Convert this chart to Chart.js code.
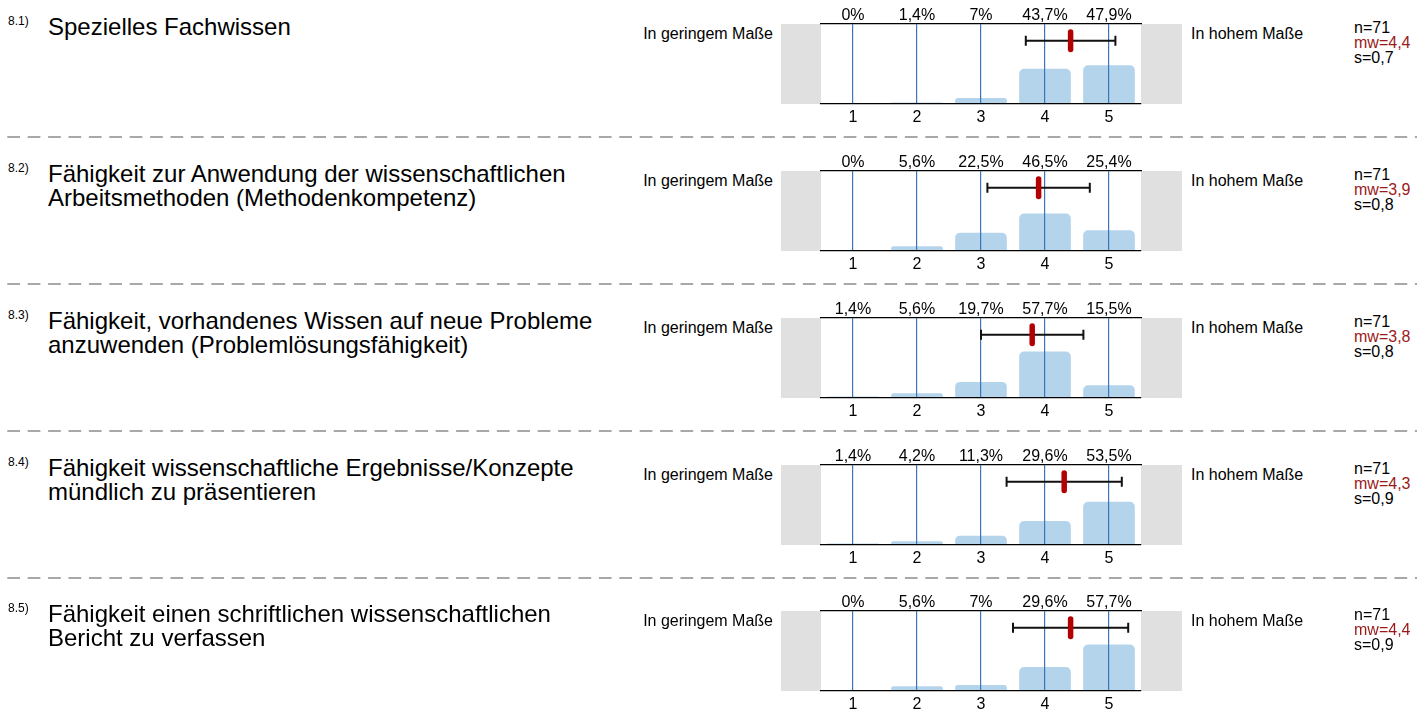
<!DOCTYPE html>
<html>
<head>
<meta charset="utf-8">
<script src="https://cdn.jsdelivr.net/npm/chart.js@4/dist/chart.umd.min.js"></script>
<style>
  html, body { margin: 0; padding: 0; background: #fff; }
  body { width: 1417px; height: 709px; position: relative; overflow: hidden;
         font-family: "Liberation Sans", Arial, sans-serif; color: #000; }
  .row { position: absolute; left: 0; width: 1417px; height: 147px; }
  .row canvas { position: absolute; left: 0; top: 0; }
  .num { position: absolute; left: 8px; top: 14.5px; font-size: 12px; line-height: 12px; white-space: nowrap; }
  .title { position: absolute; left: 48px; top: 15px; font-size: 24px; line-height: 23.5px; white-space: nowrap; }
  .lab-l { position: absolute; right: calc(1417px - 773px); top: 26px; font-size: 16px; line-height: 16px; white-space: nowrap; }
  .lab-r { position: absolute; left: 1191px; top: 26px; font-size: 16px; line-height: 16px; white-space: nowrap; }
  .stats { position: absolute; left: 1354px; top: 20px; font-size: 16px; line-height: 15px; white-space: nowrap; }
  .stats .mw { color: #9a1a1a; }
  svg.sep { position: absolute; left: 0; top: 0; }
</style>
</head>
<body>
<script>
// ---------- data ----------
const itemIds = ['8.1)', '8.2)', '8.3)', '8.4)', '8.5)'];
const itemTitles = [
  ['Spezielles Fachwissen'],
  ['Fähigkeit zur Anwendung der wissenschaftlichen', 'Arbeitsmethoden (Methodenkompetenz)'],
  ['Fähigkeit, vorhandenes Wissen auf neue Probleme', 'anzuwenden (Problemlösungsfähigkeit)'],
  ['Fähigkeit wissenschaftliche Ergebnisse/Konzepte', 'mündlich zu präsentieren'],
  ['Fähigkeit einen schriftlichen wissenschaftlichen', 'Bericht zu verfassen']
];
const categories = [1, 2, 3, 4, 5];
const tickLabels = ['1', '2', '3', '4', '5'];
const pct81 = [0, 1.4, 7, 43.7, 47.9];
const pct82 = [0, 5.6, 22.5, 46.5, 25.4];
const pct83 = [1.4, 5.6, 19.7, 57.7, 15.5];
const pct84 = [1.4, 4.2, 11.3, 29.6, 53.5];
const pct85 = [0, 5.6, 7, 29.6, 57.7];
const nValues = [71, 71, 71, 71, 71];
const means = [4.4, 3.9, 3.8, 4.3, 4.4];
const sds = [0.7, 0.8, 0.8, 0.9, 0.9];
const leftPole = 'In geringem Maße';
const rightPole = 'In hohem Maße';

const allPct = [pct81, pct82, pct83, pct84, pct85];

// ---------- layout / style ----------
const W = 1417, H = 147;
const rowTops = [0, 147, 294, 441, 587];
const sepYs = [137, 284, 431, 578];
const ERR_Y = 79;         // y-value level of error bar inside the 0..100 scale
const FONT = '"Liberation Sans", Arial, sans-serif';
const fmt = v => String(v).replace('.', ',');

// separators
const svgNS = 'http://www.w3.org/2000/svg';
const svg = document.createElementNS(svgNS, 'svg');
svg.setAttribute('class', 'sep');
svg.setAttribute('width', W); svg.setAttribute('height', 709);
sepYs.forEach(y => {
  const l = document.createElementNS(svgNS, 'line');
  l.setAttribute('x1', 7.3); l.setAttribute('x2', W);
  l.setAttribute('y1', y); l.setAttribute('y2', y);
  l.setAttribute('stroke', '#a8a8a8'); l.setAttribute('stroke-width', 2);
  l.setAttribute('stroke-dasharray', '12.7 7.7');
  svg.appendChild(l);
});
document.body.appendChild(svg);

const poleBoxes = {
  id: 'poleBoxes',
  beforeDraw(chart) {
    const a = chart.chartArea, c = chart.ctx;
    c.save();
    c.fillStyle = '#e0e0e0';
    c.fillRect(a.left - 40, a.top, 40, a.bottom - a.top);
    c.fillRect(a.right, a.top, 41, a.bottom - a.top);
    c.restore();
  }
};

const errorBar = {
  id: 'errorBar',
  afterDraw(chart, args, opts) {
    const xs = chart.scales.x, ys = chart.scales.y, c = chart.ctx;
    const m = opts.mean, s = opts.sd;
    const y = ys.getPixelForValue(ERR_Y);
    const x0 = xs.getPixelForValue(m - s), x1 = xs.getPixelForValue(m + s);
    const xm = xs.getPixelForValue(m);
    c.save();
    c.strokeStyle = '#111';
    c.lineWidth = 2;
    c.beginPath();
    c.moveTo(x0, y); c.lineTo(x1, y);
    c.moveTo(x0, y - 5); c.lineTo(x0, y + 5);
    c.moveTo(x1, y - 5); c.lineTo(x1, y + 5);
    c.stroke();
    c.strokeStyle = '#b30000';
    c.lineWidth = 5.5;
    c.lineCap = 'round';
    c.beginPath();
    c.moveTo(xm, y - 8.7); c.lineTo(xm, y + 8.7);
    c.stroke();
    c.restore();
  }
};

allPct.forEach((pct, r) => {
  const row = document.createElement('div');
  row.className = 'row';
  row.style.top = rowTops[r] + 'px';
  document.body.appendChild(row);

  const num = document.createElement('div');
  num.className = 'num'; num.textContent = itemIds[r];
  row.appendChild(num);

  const t = document.createElement('div');
  t.className = 'title';
  itemTitles[r].forEach((line, i) => {
    if (i) t.appendChild(document.createElement('br'));
    t.appendChild(document.createTextNode(line));
  });
  row.appendChild(t);

  const ll = document.createElement('div');
  ll.className = 'lab-l'; ll.textContent = leftPole; row.appendChild(ll);
  const lr = document.createElement('div');
  lr.className = 'lab-r'; lr.textContent = rightPole; row.appendChild(lr);

  const st = document.createElement('div');
  st.className = 'stats';
  st.innerHTML = '<div>n=' + nValues[r] + '</div><div class="mw">mw=' + fmt(means[r]) +
                 '</div><div>s=' + fmt(sds[r]) + '</div>';
  row.appendChild(st);

  const cv = document.createElement('canvas');
  cv.width = W; cv.height = H;
  cv.style.width = W + 'px'; cv.style.height = H + 'px';
  row.appendChild(cv);

  new Chart(cv, {
    type: 'bar',
    data: {
      datasets: [{
        data: categories.map((c, i) => ({ x: c, y: pct[i] })),
        backgroundColor: '#b4d4eb',
        borderWidth: 0,
        borderRadius: { topLeft: 5, topRight: 5, bottomLeft: 0, bottomRight: 0 },
        borderSkipped: 'bottom',
        barThickness: 51
      }]
    },
    options: {
      responsive: false,
      devicePixelRatio: 1,
      animation: false,
      events: [],
      layout: { padding: { left: 821, right: W - 1141, top: 0, bottom: 0 } },
      plugins: {
        legend: { display: false },
        tooltip: { enabled: false },
        errorBar: { mean: means[r], sd: sds[r] }
      },
      scales: {
        x: {
          type: 'linear', position: 'bottom', min: 0.5, max: 5.5, offset: false,
          afterBuildTicks: ax => { ax.ticks = categories.map(v => ({ value: v })); },
          afterFit: ax => { ax.height = 43; },
          ticks: {
            autoSkip: false, maxRotation: 0, padding: 4,
            color: '#000', font: { family: FONT, size: 16 },
            callback: (v) => tickLabels[categories.indexOf(v)]
          },
          grid: { display: true, offset: false, drawOnChartArea: true, drawTicks: false, color: '#3a76b8', lineWidth: 1.2, z: 1 },
          border: { display: true, color: '#000', width: 1.3, z: 1 }
        },
        x2: {
          type: 'linear', position: 'top', min: 0.5, max: 5.5, offset: false,
          afterBuildTicks: ax => { ax.ticks = categories.map(v => ({ value: v })); },
          afterFit: ax => { ax.height = 24; },
          ticks: {
            autoSkip: false, maxRotation: 0, padding: -1,
            color: '#000', font: { family: FONT, size: 16 },
            callback: (v) => fmt(pct[categories.indexOf(v)]) + '%'
          },
          grid: { display: false, offset: false, drawTicks: false },
          border: { display: true, color: '#000', width: 1.3 }
        },
        y: { display: false, min: 0, max: 100 }
      }
    },
    plugins: [poleBoxes, errorBar]
  });
});
</script>
</body>
</html>
